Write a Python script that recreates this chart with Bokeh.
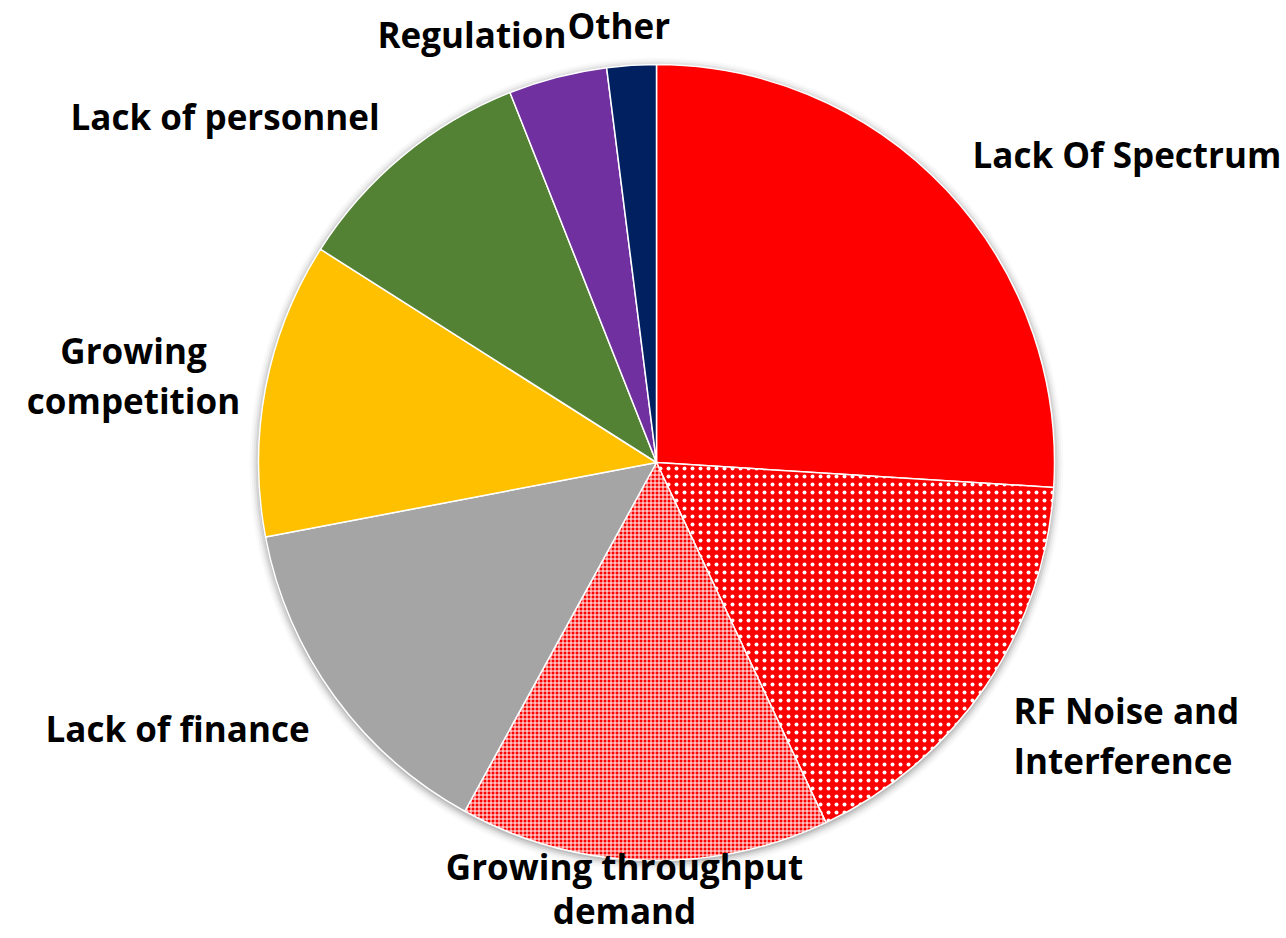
import math
from bokeh.plotting import figure
from bokeh.models import Range1d, ColumnDataSource
from bokeh.core.properties import value
from bokeh.embed import file_html
from bokeh.resources import INLINE

# ---- data ----
categories = ["Lack Of Spectrum", "RF Noise and\nInterference", "Growing throughput\ndemand",
              "Lack of finance", "Growing\ncompetition", "Lack of personnel", "Regulation", "Other"]
shares = [26, 17, 15, 14, 12, 10, 4, 2]
colors = ["#FF0000", "#FF0000", "#FF0000", "#A5A5A5", "#FFC000", "#548235", "#7030A0", "#002060"]
hatches = [" ", "dot", "cross", " ", " ", " ", " ", " "]
hatch_scales = [8, 8, 4, 8, 8, 8, 8, 8]
hatch_weights = [2, 2, 1, 2, 2, 2, 2, 2]

# ---- layout (page pixels) ----
W, H = 1282, 928
CX, CY, R = 656, 462, 398

def py(y):  # page y -> data y
    return H - y

total = float(sum(shares))
cum = 0.0
starts, ends = [], []
for s in shares:
    a0 = math.pi / 2 - 2 * math.pi * cum / total
    cum += s
    a1 = math.pi / 2 - 2 * math.pi * cum / total
    starts.append(a1)
    ends.append(a0)

src = ColumnDataSource(dict(cat=categories, share=shares, color=colors, hatch=hatches,
                            hs=hatch_scales, hw=hatch_weights, start=starts, end=ends))

p = figure(width=W, height=H, x_range=Range1d(0, W), y_range=Range1d(0, H),
           output_backend="svg", toolbar_location=None,
           x_axis_location=None, y_axis_location=None, min_border=0)
p.outline_line_color = None
p.xgrid.visible = False
p.ygrid.visible = False

# soft shadow
for i, a in enumerate([0.10, 0.07, 0.05, 0.03, 0.02]):
    p.circle(x=[CX], y=[py(CY) - 2], radius=R + 1 + i * 2, fill_color="#000000",
             fill_alpha=a, line_color=None)

p.wedge(x=CX, y=py(CY), radius=R, start_angle="start", end_angle="end", source=src,
        fill_color="color", line_color="white", line_width=1.5,
        hatch_pattern="hatch", hatch_color="white", hatch_scale="hs", hatch_weight="hw")

# labels: (x, first-line baseline page y, align, line gap)
label_x = [972, 1013, 624, 45, 133, 70, 377, 567]
label_y = [154, 710, 866, 728, 350, 116, 34, 25]
label_gap = [50, 50, 44, 50, 50, 50, 50, 50]
label_align = ["left", "left", "center", "left", "center", "left", "left", "left"]
for txt, lx, ly, gap, al in zip(categories, label_x, label_y, label_gap, label_align):
    for i, line in enumerate(txt.split("\n")):
        p.text(x=[lx], y=[py(ly + i * gap)], text=[line], text_font=value("Open Sans"),
               text_font_style="bold", text_font_size="35px", text_color="black",
               text_align=al, text_baseline="alphabetic")

open("out.html", "w").write(file_html(p, INLINE))
